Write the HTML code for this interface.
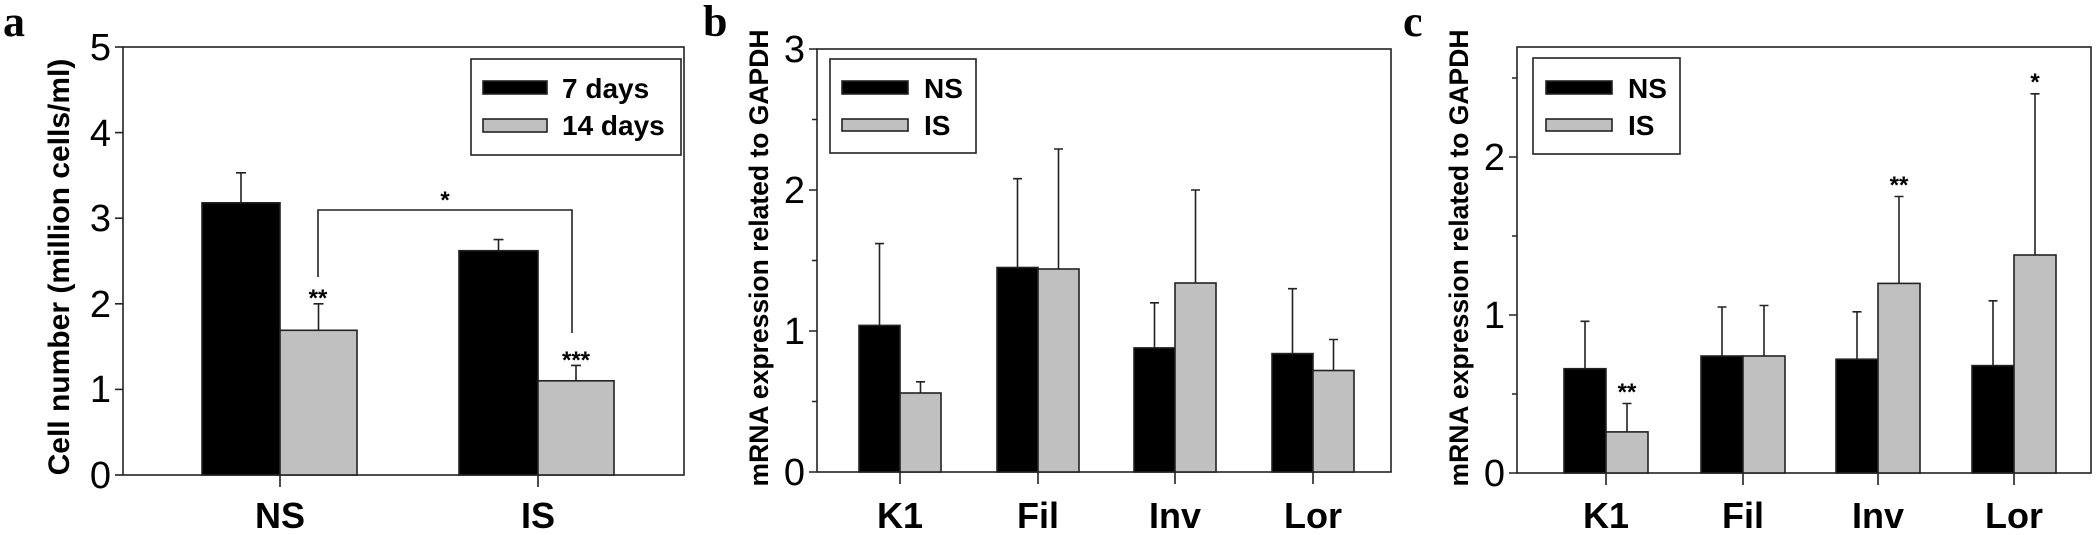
<!DOCTYPE html>
<html><head><meta charset="utf-8"><style>
html,body{margin:0;padding:0;background:#fff;}
svg{display:block;}
text{font-family:"Liberation Sans Narrow","Liberation Sans",sans-serif;fill:#000;}
.t{font-size:38px;}
.xl{font-size:36px;font-weight:bold;}
.lg{font-size:28px;font-weight:bold;}
.yl{font-family:"Liberation Sans",sans-serif;font-weight:bold;}
.pl{font-family:"Liberation Serif",serif;font-weight:bold;font-size:44px;}
.st{font-size:24px;font-weight:bold;}
</style></head><body>
<svg width="2100" height="535" viewBox="0 0 2100 535" xmlns="http://www.w3.org/2000/svg">
<g stroke="#222" stroke-width="1.6">
<!-- Panel a -->
<rect x="123" y="47" width="561" height="428" fill="none"/>
<g>
<line x1="115" y1="475" x2="123" y2="475"/><line x1="115" y1="389.4" x2="123" y2="389.4"/><line x1="115" y1="303.8" x2="123" y2="303.8"/><line x1="115" y1="218.2" x2="123" y2="218.2"/><line x1="115" y1="132.6" x2="123" y2="132.6"/><line x1="115" y1="47" x2="123" y2="47"/>
<line x1="280" y1="475" x2="280" y2="487"/><line x1="538" y1="475" x2="538" y2="487"/>
</g>
<rect x="202" y="202.8" width="78" height="272.2" fill="#000"/>
<rect x="280" y="330.3" width="77" height="144.7" fill="#c0c0c0"/>
<rect x="459" y="250.7" width="79" height="224.3" fill="#000"/>
<rect x="538" y="380.8" width="76" height="94.2" fill="#c0c0c0"/>
<path d="M241 202.8V172.8M236 172.8H246M318.5 330.3V303.8M313.5 303.8H323.5M498.5 250.7V239.6M493.5 239.6H503.5M576 380.8V365.4M571 365.4H581" fill="none"/>
<path d="M318 277V210H572V333" fill="none"/>
<rect x="471" y="59" width="210" height="96" fill="#fff"/>
<rect x="483" y="81" width="64" height="13" fill="#000"/>
<rect x="483" y="119" width="64" height="13" fill="#c0c0c0"/>

<!-- Panel b -->
<rect x="817" y="49" width="574" height="423" fill="none"/>
<path d="M809 472H817M809 331H817M809 190H817M809 49H817M812 401.5H817M812 260.5H817M812 119.5H817M900 472V484M1038 472V484M1175 472V484M1313 472V484" fill="none"/>
<rect x="859" y="325.4" width="41" height="146.6" fill="#000"/>
<rect x="900" y="393" width="41" height="79" fill="#c0c0c0"/>
<rect x="997" y="267.5" width="41" height="204.5" fill="#000"/>
<rect x="1038" y="269" width="41" height="203" fill="#c0c0c0"/>
<rect x="1134" y="347.9" width="41" height="124.1" fill="#000"/>
<rect x="1175" y="283" width="41" height="189" fill="#c0c0c0"/>
<rect x="1272" y="353.6" width="41" height="118.4" fill="#000"/>
<rect x="1313" y="370.5" width="41" height="101.5" fill="#c0c0c0"/>
<path d="M879.5 325.4V243.6M875 243.6H884M920.5 393V381.8M916 381.8H925M1017.5 267.5V178.7M1013 178.7H1022M1058.5 269V149M1054 149H1063M1154.5 347.9V302.8M1150 302.8H1159M1195.5 283V190M1191 190H1200M1292.5 353.6V288.7M1288 288.7H1297M1333.5 370.5V339.5M1329 339.5H1338" fill="none"/>
<rect x="830" y="59" width="146" height="94" fill="#fff"/>
<rect x="842" y="81" width="66" height="13" fill="#000"/>
<rect x="842" y="119" width="66" height="12" fill="#c0c0c0"/>

<!-- Panel c -->
<rect x="1517" y="47" width="574" height="426" fill="none"/>
<path d="M1509 473H1517M1509 315H1517M1509 157H1517M1512 394H1517M1512 236H1517M1512 78H1517M1606 473V485M1743 473V485M1878 473V485M2014 473V485" fill="none"/>
<rect x="1564" y="368.7" width="42" height="104.3" fill="#000"/>
<rect x="1606" y="431.9" width="42" height="41.1" fill="#c0c0c0"/>
<rect x="1701" y="356" width="42" height="117" fill="#000"/>
<rect x="1743" y="356" width="42" height="117" fill="#c0c0c0"/>
<rect x="1836" y="359.2" width="42" height="113.8" fill="#000"/>
<rect x="1878" y="283.4" width="42" height="189.6" fill="#c0c0c0"/>
<rect x="1972" y="365.6" width="42" height="107.4" fill="#000"/>
<rect x="2014" y="255" width="42" height="218" fill="#c0c0c0"/>
<path d="M1585 368.7V321.3M1580.5 321.3H1589.5M1627 431.9V403.5M1622.5 403.5H1631.5M1722 356V307M1717.5 307H1726.5M1764 356V305.5M1759.5 305.5H1768.5M1857 359.2V311.8M1852.5 311.8H1861.5M1899 283.4V196.5M1894.5 196.5H1903.5M1993 365.6V300.8M1988.5 300.8H1997.5M2035 255V93.8M2030.5 93.8H2039.5" fill="none"/>
<rect x="1533" y="58" width="147" height="96" fill="#fff"/>
<rect x="1546" y="81" width="66" height="13" fill="#000"/>
<rect x="1546" y="119" width="66" height="12" fill="#c0c0c0"/>
</g>

<!-- Texts panel a -->
<text class="pl" x="3" y="36">a</text>
<g class="t" text-anchor="end">
<text x="111" y="488">0</text><text x="111" y="402">1</text><text x="111" y="317">2</text><text x="111" y="231">3</text><text x="111" y="146">4</text><text x="111" y="60">5</text>
</g>
<text class="yl" font-size="30" text-anchor="middle" transform="translate(69,267) rotate(-90)">Cell number (million cells/ml)</text>
<g class="xl" text-anchor="middle"><text x="280" y="528">NS</text><text x="538" y="528">IS</text></g>
<g class="lg"><text x="562" y="98">7 days</text><text x="562" y="135">14 days</text></g>
<g class="st" text-anchor="middle"><text x="318" y="306">**</text><text x="576" y="368">***</text><text x="445" y="208">*</text></g>

<!-- Texts panel b -->
<text class="pl" x="703" y="36">b</text>
<g class="t" text-anchor="end">
<text x="805" y="485">0</text><text x="805" y="344">1</text><text x="805" y="203">2</text><text x="805" y="62">3</text>
</g>
<text class="yl" font-size="26.5" text-anchor="middle" transform="translate(768,258) rotate(-90)">mRNA expression related to GAPDH</text>
<g class="xl" text-anchor="middle"><text x="900" y="528">K1</text><text x="1038" y="528">Fil</text><text x="1175" y="528">Inv</text><text x="1313" y="528">Lor</text></g>
<g class="lg"><text x="924" y="98">NS</text><text x="924" y="135">IS</text></g>

<!-- Texts panel c -->
<text class="pl" x="1403" y="36">c</text>
<g class="t" text-anchor="end">
<text x="1505" y="486">0</text><text x="1505" y="328">1</text><text x="1505" y="170">2</text>
</g>
<text class="yl" font-size="26.5" text-anchor="middle" transform="translate(1468,258) rotate(-90)">mRNA expression related to GAPDH</text>
<g class="xl" text-anchor="middle"><text x="1606" y="528">K1</text><text x="1743" y="528">Fil</text><text x="1878" y="528">Inv</text><text x="2014" y="528">Lor</text></g>
<g class="lg"><text x="1628" y="98">NS</text><text x="1628" y="135">IS</text></g>
<g class="st" text-anchor="middle"><text x="1627" y="400">**</text><text x="1899" y="193">**</text><text x="2035" y="90">*</text></g>
</svg>
</body></html>
